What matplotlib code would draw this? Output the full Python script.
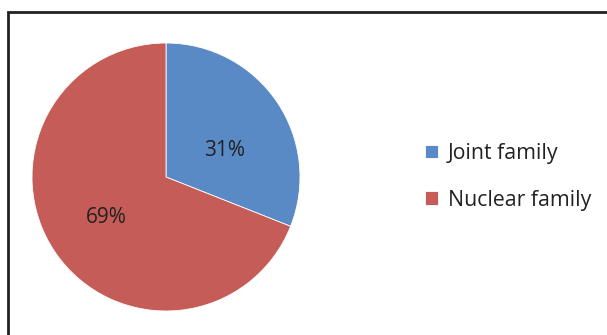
import matplotlib.pyplot as plt
from matplotlib.patches import Rectangle

# Data
labels = ['Joint family', 'Nuclear family']
shares = [31, 69]
colors = ['#5A8AC6', '#C65C58']

plt.rcParams['font.family'] = ['Open Sans', 'DejaVu Sans']

fig = plt.figure(figsize=(6.07, 3.35), dpi=100)
ax = fig.add_axes([32 / 607, 24 / 335, 268 / 607, 268 / 335])

wedges, texts, autotexts = ax.pie(
    shares, colors=colors, startangle=90, counterclock=False,
    autopct='%d%%', pctdistance=0.54, radius=1.0,
    wedgeprops={'linewidth': 0.6, 'edgecolor': 'white'},
    textprops={'fontsize': 15, 'color': '#222222'})
# nudge the small-slice label a bit lower, like the original
autotexts[0].set_position((0.44, 0.20))
ax.set_xlim(-1, 1)
ax.set_ylim(-1, 1)
ax.set_aspect('equal')

# Outer border (only top and left visible in the crop)
fig.add_artist(Rectangle((8 / 607, -0.2), 1.2, (335 - 12) / 335 + 0.2,
                         transform=fig.transFigure, fill=False,
                         edgecolor='#222222', linewidth=2))

leg = fig.legend(wedges, labels, loc='center left',
                 bbox_to_anchor=(0.669, 0.472), frameon=False,
                 fontsize=15.3, handlelength=0.6, handleheight=0.6,
                 handletextpad=0.45, labelspacing=1.2)
for t in leg.get_texts():
    t.set_color('#222222')

fig.savefig('out.png', dpi=100)
